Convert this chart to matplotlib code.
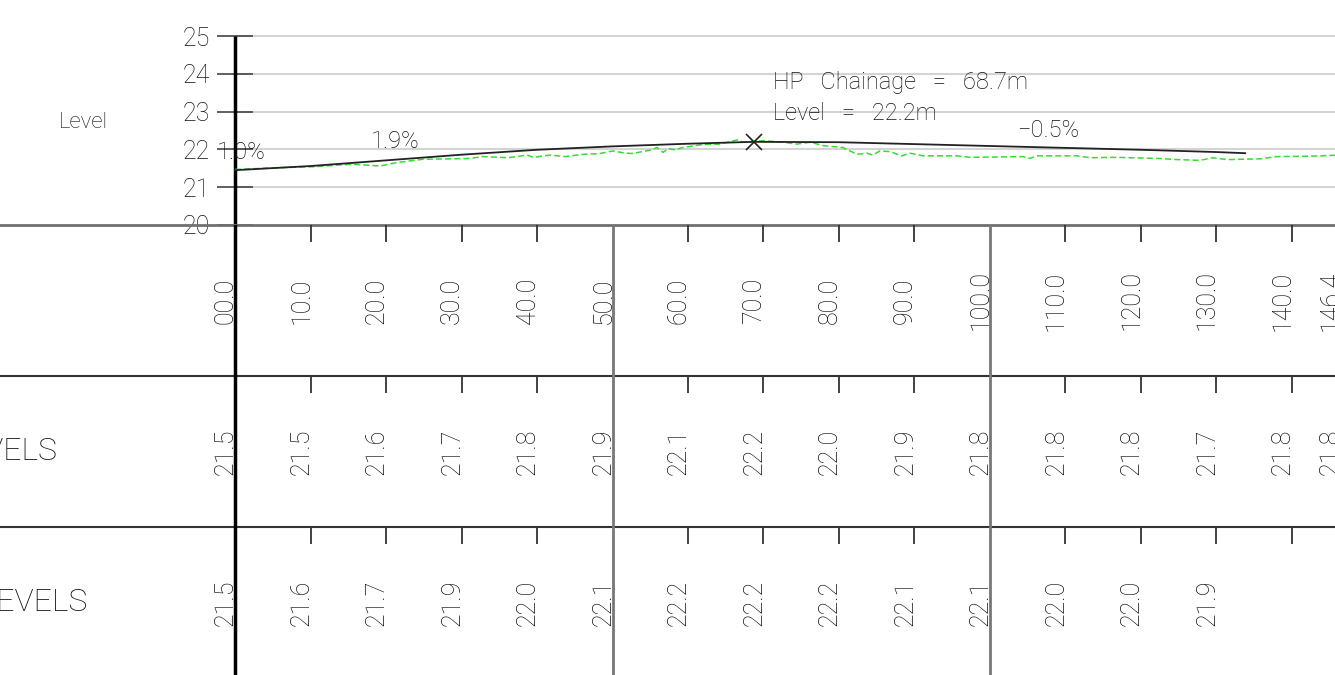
import matplotlib.pyplot as plt

plt.rcParams['font.family'] = ['Roboto', 'DejaVu Sans']
plt.rcParams['font.weight'] = 'light'

# chainages (m) and band values
chainages = [0, 10, 20, 30, 40, 50, 60, 70, 80, 90, 100, 110, 120, 130, 140, 146.4]
chainage_labels = ['00.0', '10.0', '20.0', '30.0', '40.0', '50.0', '60.0', '70.0',
                   '80.0', '90.0', '100.0', '110.0', '120.0', '130.0', '140.0', '146.4']
existing_levels = [21.5, 21.5, 21.6, 21.7, 21.8, 21.9, 22.1, 22.2, 22.0, 21.9,
                   21.8, 21.8, 21.8, 21.7, 21.8, 21.8]
design_chainages = [0, 10, 20, 30, 40, 50, 60, 70, 80, 90, 100, 110, 120, 130]
design_levels = [21.5, 21.6, 21.7, 21.9, 22.0, 22.1, 22.2, 22.2, 22.2, 22.1,
                 22.1, 22.0, 22.0, 21.9]

# design road profile (black)
road_x = [0, 10, 20, 30, 40, 50, 60, 68.7, 80, 90, 100, 110, 120, 130, 133.8]
road_y = [21.45, 21.56, 21.71, 21.86, 21.99, 22.08, 22.15, 22.20, 22.19, 22.14,
          22.09, 22.04, 21.99, 21.93, 21.90]

# existing ground (green dashed)
ground_x = [0, 6.4, 10.3, 15.6, 19.2, 21.4, 24.9, 28.5, 31.1, 32.8, 36.2, 38.7, 39.5,
            41.7, 43.7, 46.1, 48.3, 50.1, 51.4, 52.6, 55.0, 55.9, 56.7, 57.4, 58.3,
            59.3, 62.0, 64.2, 66.5, 67.3, 69.9, 72.2, 74.4, 76.2, 77.9, 80.5, 82.4,
            83.7, 84.5, 85.4, 86.8, 88.3, 89.4, 91.1, 95.6, 97.4, 104.4, 105.3, 106.2,
            111.5, 113.2, 116.6, 122.5, 124.8, 127.8, 129.5, 131.4, 135.8, 138.0,
            142.4, 146.4]
ground_y = [21.47, 21.52, 21.54, 21.61, 21.56, 21.65, 21.74, 21.75, 21.76, 21.81,
            21.78, 21.85, 21.79, 21.85, 21.81, 21.87, 21.89, 21.96, 21.91, 21.89,
            21.98, 22.05, 21.92, 22.02, 21.99, 22.05, 22.13, 22.14, 22.25, 22.19,
            22.23, 22.20, 22.14, 22.19, 22.10, 22.05, 21.87, 21.90, 21.85, 21.96,
            21.94, 21.83, 21.90, 21.83, 21.83, 21.79, 21.81, 21.76, 21.83, 21.83,
            21.78, 21.79, 21.76, 21.73, 21.71, 21.78, 21.73, 21.75, 21.81, 21.82,
            21.85]

hp_x, hp_y = 68.7, 22.2

grade_labels = ['1.0%', '1.9%', '\u22120.5%']
grade_x = [-2.4, 18.0, 103.6]
grade_y = [21.93, 22.22, 22.51]

txt = '#111111'
fs = 18
xmin, xmax = -31.13, 145.7

fig = plt.figure(figsize=(13.35, 6.75), dpi=100)

# ---- level profile ----
ax = fig.add_axes([0, 450 / 675, 1, 225 / 675])
ax.set_xlim(xmin, xmax)
ax.set_ylim(20, 20 + 225 / 37.8)
for s in ax.spines.values():
    s.set_visible(False)
ax.set_xticks([])
ax.set_yticks([20, 21, 22, 23, 24, 25])
ax.tick_params(axis='y', direction='inout', length=26, width=1.2, color='#444444',
               pad=5, labelsize=fs, labelcolor=txt)
ax.spines['left'].set_position(('data', 0))
ax.hlines([21, 22, 23, 24, 25], 0, xmax, color='#d4d4d4', lw=1.5, zorder=0)
ax.vlines(0, 20, 25, color='black', lw=2.5)

ax.plot(ground_x, ground_y, color='#33dd33', lw=1.1, ls=(0, (4, 2)))
ax.plot(road_x, road_y, color='#222222', lw=1.3)
ax.plot(hp_x, hp_y, marker='x', ms=12, mew=1.2, color='#222222')

ax.text(71.3, 23.78, 'HP   Chainage   =   68.7m', fontsize=17, color=txt, va='center')
ax.text(71.3, 22.94, 'Level   =   22.2m', fontsize=17, color=txt, va='center')
for lab, gx, gy in zip(grade_labels, grade_x, grade_y):
    ax.text(gx, gy, lab, fontsize=17, color=txt, va='center')
ax.text(-20.1, 22.72, 'Level', fontsize=16, color=txt, ha='center', va='center')

# ---- data bands ----
axb = fig.add_axes([0, 0, 1, 450 / 675])
axb.set_xlim(xmin, xmax)
axb.set_ylim(-148 / 151, 2)
axb.axis('off')

axb.axhline(2, color='#707070', lw=2, clip_on=False)
axb.axhline(1, color='#333333', lw=1.5)
axb.axhline(0, color='#333333', lw=1.5)
axb.axvline(0, color='black', lw=2.5)
axb.axvline(50, color='#777777', lw=2)
axb.axvline(100, color='#777777', lw=2)

tick_x = [c for c in chainages if c % 50 != 0 and c != 146.4]
for yb in [2, 1, 0]:
    axb.vlines(tick_x, yb - 0.115, yb, color='#333333', lw=1.3)

for c, lab in zip(chainages, chainage_labels):
    axb.text(c - 0.3, 1.5, lab, rotation=90, rotation_mode='anchor', ha='center',
             va='baseline', fontsize=fs, color=txt)
for c, v in zip(chainages, existing_levels):
    axb.text(c - 0.3, 0.5, f'{v:.1f}', rotation=90, rotation_mode='anchor', ha='center',
             va='baseline', fontsize=fs, color=txt)
for c, v in zip(design_chainages, design_levels):
    axb.text(c - 0.3, -0.5, f'{v:.1f}', rotation=90, rotation_mode='anchor', ha='center',
             va='baseline', fontsize=fs, color=txt)

axb.text(-23.6, 0.5, 'EXISTING LEVELS', fontsize=23, color=txt, ha='right', va='center')
axb.text(-19.6, -0.5, 'DESIGN LEVELS', fontsize=23, color=txt, ha='right', va='center')

fig.savefig('out.png', dpi=100)
